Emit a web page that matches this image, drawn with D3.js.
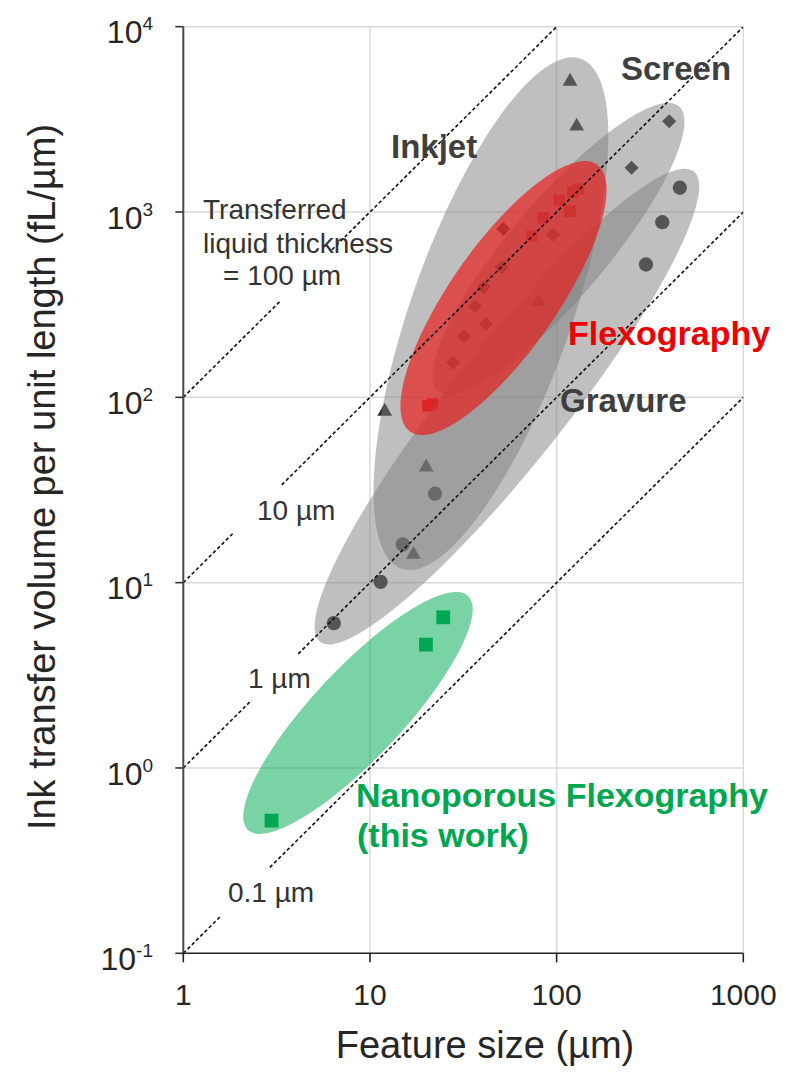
<!DOCTYPE html>
<html><head><meta charset="utf-8">
<script src="https://cdn.jsdelivr.net/npm/d3@7"></script>
<style>
body{margin:0;background:#fff}
svg{display:block}
text{font-family:Arial,"Liberation Sans",sans-serif}
</style>
</head><body>
<svg id="chart" width="786" height="1074"></svg>
<script>
// ---------- data ----------
const xTickValues = [1, 10, 100, 1000];
const xTickLabels = ["1", "10", "100", "1000"];
const yTickExponents = [-1, 0, 1, 2, 3, 4];

// Inkjet (triangles)
const inkjetSize = [118, 128, 80, 12.0, 20, 17.1];
const inkjetVol  = [5070, 2900, 329, 84, 42, 14.2];
// Screen (diamonds)
const screenSize = [401, 252, 51.8, 95.9, 50.7, 40.8, 36.5, 41.7, 31.9, 27.9];
const screenVol  = [3090, 1733, 811, 755, 504, 394, 310, 249, 213, 154];
// Gravure (circles)
const gravureSize = [457, 368, 301, 22.3, 15.0, 11.4, 6.4];
const gravureVol  = [1352, 881, 521, 30.2, 16.1, 10.1, 6.05];
// Flexography (red squares)
const flexoSize = [130.6, 122, 103, 118, 84.8, 73.5, 20.4, 21.7];
const flexoVol  = [1333, 1279, 1159, 1009, 931, 740, 90, 92];
// Nanoporous flexography (green squares)
const nanoSize = [24.7, 19.95, 2.97];
const nanoVol  = [6.5, 4.63, 0.52];

// Constant transferred-liquid-thickness lines (µm), gap where label sits
const thickness = [100, 10, 1, 0.1];
const thicknessGapFrom = [3.3, 1.86, 2.32, 1.6];
const thicknessGapTo   = [6.26, 3.37, 4.13, 2.91];

// Region ellipses: major-axis end points (data units) and half-width (decades)
const regionNames   = ["Inkjet", "Screen", "Gravure", "Flexography", "Nanoporous"];
const regionSizeA   = [14.7, 23.1, 5.40, 16.4, 2.22];
const regionVolA    = [11.9, 107.5, 4.80, 65.3, 0.463];
const regionSizeB   = [134.5, 452, 543, 164.4, 33.5];
const regionVolB    = [6714, 3716, 1656, 1807, 8.49];
const regionHalfDec = [0.43, 0.26, 0.31, 0.285, 0.24];

// ---------- layout ----------
const svg = d3.select("#chart");
const L = 183.3, R = 743.3, T = 26.7, B = 953.3;
const x = d3.scaleLog().domain([1, 1000]).range([L, R]);
const y = d3.scaleLog().domain([0.1, 10000]).range([B, T]);
const dec = x(10) - x(1);

svg.append("defs").append("clipPath").attr("id", "plot")
  .append("rect").attr("x", L).attr("y", T).attr("width", R - L).attr("height", B - T);

// gridlines
const grid = svg.append("g").attr("stroke", "#d9d9d9").attr("stroke-width", 1.5);
xTickValues.slice(1).forEach(v => grid.append("line")
  .attr("x1", x(v)).attr("x2", x(v)).attr("y1", T).attr("y2", B));
yTickExponents.slice(1).forEach(e => grid.append("line")
  .attr("x1", L).attr("x2", R).attr("y1", y(Math.pow(10, e))).attr("y2", y(Math.pow(10, e))));

const plot = svg.append("g").attr("clip-path", "url(#plot)");

// markers under the shaded regions
function markers(sizes, vols, type, area, color, rot) {
  const sym = d3.symbol().type(type).size(area);
  plot.append("g").selectAll("path").data(sizes).join("path")
    .attr("d", sym)
    .attr("transform", (d, i) => `translate(${x(d)},${y(vols[i])}) rotate(${rot || 0})`)
    .attr("fill", color);
}
markers(inkjetSize, inkjetVol, d3.symbolTriangle, 95, "#2b2b2b");
markers(screenSize, screenVol, d3.symbolSquare, 100, "#2b2b2b", 45);
markers(gravureSize, gravureVol, d3.symbolCircle, 160, "#2b2b2b");
markers(flexoSize, flexoVol, d3.symbolSquare, 130, "#ff0000");

// ellipses
const regionFill = ["#808080", "#808080", "#808080", "#ea1a1a", "#00aa50"];
const regionOpacity = [0.5, 0.5, 0.5, 0.68, 0.52];
regionNames.forEach((n, i) => {
  const x1 = x(regionSizeA[i]), y1 = y(regionVolA[i]);
  const x2 = x(regionSizeB[i]), y2 = y(regionVolB[i]);
  const cx = (x1 + x2) / 2, cy = (y1 + y2) / 2;
  const rx = Math.hypot(x2 - x1, y2 - y1) / 2, ry = regionHalfDec[i] * dec;
  const ang = Math.atan2(y2 - y1, x2 - x1) * 180 / Math.PI;
  plot.append("ellipse").attr("cx", cx).attr("cy", cy).attr("rx", rx).attr("ry", ry)
    .attr("transform", `rotate(${ang},${cx},${cy})`)
    .attr("fill", regionFill[i]).attr("fill-opacity", regionOpacity[i]);
});

markers(nanoSize, nanoVol, d3.symbolSquare, 190, "#00a650");

// dashed thickness lines
const line = d3.line().x(d => x(d[0])).y(d => y(d[1]));
thickness.forEach((t, i) => {
  const wEnd = Math.min(1000, 10000 / t);
  [[1, thicknessGapFrom[i]], [thicknessGapTo[i], wEnd]].forEach(seg => {
    plot.append("path")
      .attr("d", line([[seg[0], t * seg[0]], [seg[1], t * seg[1]]]))
      .attr("fill", "none").attr("stroke", "#111").attr("stroke-width", 1.6)
      .attr("stroke-dasharray", "3.5,2.5");
  });
});

// axes
const axisG = svg.append("g");
axisG.append("line").attr("x1", L).attr("x2", L).attr("y1", T).attr("y2", B + 1)
  .attr("stroke", "#4a4a4a").attr("stroke-width", 2);
axisG.append("line").attr("x1", L - 1).attr("x2", R).attr("y1", B).attr("y2", B)
  .attr("stroke", "#222").attr("stroke-width", 1.6);
yTickExponents.forEach(e => axisG.append("line")
  .attr("x1", L - 8).attr("x2", L).attr("y1", y(Math.pow(10, e))).attr("y2", y(Math.pow(10, e)))
  .attr("stroke", "#333").attr("stroke-width", 1.6));
xTickValues.forEach(v => axisG.append("line")
  .attr("x1", x(v)).attr("x2", x(v)).attr("y1", B).attr("y2", B + 9)
  .attr("stroke", "#222").attr("stroke-width", 1.6));

// tick labels
xTickValues.forEach((v, i) => svg.append("text")
  .attr("x", x(v)).attr("y", B + 52).attr("text-anchor", "middle")
  .attr("font-size", 30).attr("fill", "#262626").text(xTickLabels[i]));
yTickExponents.forEach(e => {
  const t = svg.append("text").attr("x", 153).attr("y", y(Math.pow(10, e)) + 16.6)
    .attr("text-anchor", "end").attr("font-size", 32).attr("fill", "#262626");
  t.append("tspan").text("10");
  t.append("tspan").attr("font-size", 19).attr("dy", -13).text(String(e));
});

// axis titles
svg.append("text").attr("x", 485).attr("y", 1058).attr("text-anchor", "middle")
  .attr("font-size", 38).attr("fill", "#262626").text("Feature size (µm)");
svg.append("text").attr("transform", "translate(55,477) rotate(-90)")
  .attr("text-anchor", "middle").attr("font-size", 38).attr("fill", "#262626")
  .text("Ink transfer volume per unit length (fL/µm)");

// annotations
function label(txt, px, py, size, color, weight, anchor) {
  svg.append("text").attr("x", px).attr("y", py).attr("font-size", size)
    .attr("fill", color).attr("font-weight", weight || "normal")
    .attr("text-anchor", anchor || "start").text(txt);
}
label("Transferred", 203, 219, 28, "#333");
label("liquid thickness", 203, 253, 28, "#333");
label("= 100 µm", 223, 285, 28, "#333");
label("10 µm", 257, 520, 28, "#333");
label("1 µm", 248, 688, 28, "#333");
label("0.1 µm", 228, 902, 28, "#333");
label("Inkjet", 391, 158, 33, "#3f3f3f", "bold");
label("Screen", 621, 80, 33, "#3f3f3f", "bold");
label("Gravure", 560, 412, 33, "#3f3f3f", "bold");
label("Flexography", 568, 345, 34, "#ee0000", "bold");
label("Nanoporous Flexography", 356, 807, 34, "#00a650", "bold");
label("(this work)", 357, 847, 34, "#00a650", "bold");
</script>
</body></html>
